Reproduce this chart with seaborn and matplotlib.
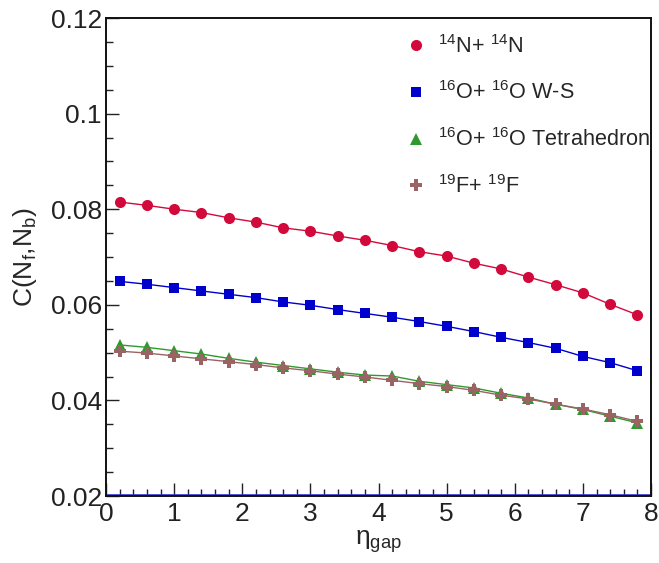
import numpy as np
import pandas as pd
import seaborn as sns
import matplotlib
matplotlib.use("Agg")
import matplotlib.pyplot as plt
from matplotlib.lines import Line2D
from matplotlib.ticker import MultipleLocator

# ---- data ----
eta_gap = [0.2, 0.6, 1.0, 1.4, 1.8, 2.2, 2.6, 3.0, 3.4, 3.8,
           4.2, 4.6, 5.0, 5.4, 5.8, 6.2, 6.6, 7.0, 7.4, 7.8]
c_N14 = [0.0815, 0.0808, 0.0800, 0.0793, 0.0782, 0.0773, 0.0761, 0.0754, 0.0744, 0.0735,
         0.0724, 0.0711, 0.0702, 0.0687, 0.0675, 0.0658, 0.0642, 0.0625, 0.0601, 0.0579]
c_O16_WS = [0.0649, 0.0643, 0.0636, 0.0629, 0.0622, 0.0615, 0.0606, 0.0599, 0.0590, 0.0582,
            0.0574, 0.0565, 0.0555, 0.0544, 0.0532, 0.0521, 0.0509, 0.0492, 0.0479, 0.0462]
c_O16_Tet = [0.0516, 0.0511, 0.0504, 0.0497, 0.0488, 0.0480, 0.0473, 0.0466, 0.0459, 0.0453,
             0.0451, 0.0440, 0.0433, 0.0426, 0.0415, 0.0405, 0.0392, 0.0381, 0.0367, 0.0353]
c_F19 = [0.0503, 0.0499, 0.0493, 0.0487, 0.0481, 0.0475, 0.0468, 0.0462, 0.0455, 0.0449,
         0.0442, 0.0435, 0.0429, 0.0421, 0.0411, 0.0403, 0.0392, 0.0382, 0.0370, 0.0356]
series_labels = [r"$^{14}$N+ $^{14}$N", r"$^{16}$O+ $^{16}$O W-S",
                 r"$^{16}$O+ $^{16}$O Tetrahedron", r"$^{19}$F+ $^{19}$F"]
x_ticks = [0, 1, 2, 3, 4, 5, 6, 7, 8]
y_ticks = [0.02, 0.04, 0.06, 0.08, 0.10, 0.12]
y_tick_labels = ["0.02", "0.04", "0.06", "0.08", "0.1", "0.12"]

colors = ["#d20a3c", "#0000cc", "#2e9a2e", "#9a6464"]
markers = ["o", "s", "^", "P"]
msizes = [8, 7.5, 8, 8.5]

sns.set_theme(style="ticks")
plt.rcParams["font.family"] = ["Liberation Sans", "DejaVu Sans"]
plt.rcParams["mathtext.fontset"] = "custom"
plt.rcParams["mathtext.rm"] = "Liberation Sans"
plt.rcParams["mathtext.it"] = "Liberation Sans:italic"
plt.rcParams["mathtext.bf"] = "Liberation Sans:bold"

df = pd.DataFrame({
    "eta": eta_gap * 4,
    "C": c_N14 + c_O16_WS + c_O16_Tet + c_F19,
    "system": sum([[lab] * len(eta_gap) for lab in series_labels], []),
})

fig = plt.figure(figsize=(6.59, 5.63), dpi=100)
ax = fig.add_axes([106 / 659, 1 - 496 / 563, 545 / 659, 478 / 563])

sns.lineplot(data=df, x="eta", y="C", hue="system", style="system",
             palette=dict(zip(series_labels, colors)),
             markers=dict(zip(series_labels, markers)), dashes=False,
             linewidth=1.0, markersize=8, markeredgewidth=0, legend=False, ax=ax)
for ln, ms in zip(ax.lines, msizes):
    ln.set_markersize(ms)

ax.axhline(0.0202, color="#3333cc", lw=1.2, zorder=1)

ax.set_xlim(0, 8)
ax.set_ylim(0.02, 0.12)
ax.set_xticks(x_ticks)
ax.set_xticklabels([str(t) for t in x_ticks])
ax.set_yticks(y_ticks)
ax.set_yticklabels(y_tick_labels)
ax.xaxis.set_minor_locator(MultipleLocator(0.2))
ax.yaxis.set_minor_locator(MultipleLocator(0.005))
ax.tick_params(which="both", direction="in", top=False, right=False,
               colors="#222222", labelsize=19, width=1.0)
ax.tick_params(which="major", length=9.5)
ax.tick_params(which="minor", length=5)
ax.tick_params(axis="x", pad=4)
ax.tick_params(axis="y", pad=3)
for sp in ax.spines.values():
    sp.set_visible(True)
    sp.set_linewidth(1.4)
    sp.set_color("#111111")

ax.set_xlabel("η$_{\\mathrm{gap}}$", fontsize=19, labelpad=2)
ax.set_ylabel("C(N$_{\\mathrm{f}}$,N$_{\\mathrm{b}}$)", fontsize=19, labelpad=8)

handles = [Line2D([], [], linestyle="none", marker=m, color=c, markersize=s, markeredgewidth=0)
           for m, c, s in zip(markers, colors, msizes)]
ax.legend(handles, series_labels, loc="upper left", bbox_to_anchor=(0.533, 0.983),
          frameon=False, fontsize=15.6, handlelength=1.0, handletextpad=0.5,
          labelspacing=1.1, borderaxespad=0)

fig.savefig("out.png", dpi=100)
